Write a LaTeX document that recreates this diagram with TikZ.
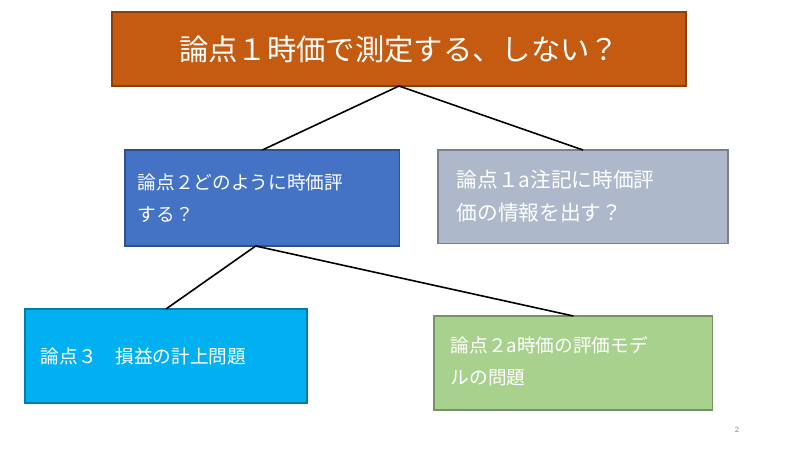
\documentclass[tikz,border=0pt]{standalone}
\usepackage{fontspec}
\newfontfamily\cjk{Noto Sans CJK JP}
\begin{document}
\begin{tikzpicture}[x=0.75pt,y=-0.75pt]
\tikzset{box/.style={draw=#1!70!black,fill=#1,line width=0.8pt,text=white,font=\cjk,inner sep=0pt,outer sep=0pt},
 ln/.style={line width=1.2pt,black}}
\definecolor{c1}{HTML}{C55A11}\definecolor{c2}{HTML}{4472C4}\definecolor{c3}{HTML}{ADB9CA}
\definecolor{c4}{HTML}{00B0F0}\definecolor{c5}{HTML}{A9D18E}
\useasboundingbox (0,0) rectangle (800,450);
\node[box=c1,minimum width=430.5pt,minimum height=55.5pt,anchor=north west,font=\cjk\fontsize{22}{26}\selectfont] (t) at (112,12) {論点１時価で測定する、しない？};
\node[box=c2,minimum width=206pt,minimum height=72pt,anchor=north west] (b2) at (125,150) {};
\node[text=white,font=\cjk\fontsize{14}{24}\selectfont,align=left,anchor=west] at (133,198) {論点２どのように時価評\\する？};
\node[box=c3,minimum width=217.5pt,minimum height=70pt,anchor=north west] (b1a) at (438,150) {};
\node[text=white,font=\cjk\fontsize{15.5}{25}\selectfont,align=left,anchor=west] at (452,196) {論点１a注記に時価評\\価の情報を出す？};
\node[box=c4,minimum width=211.5pt,minimum height=70.5pt,anchor=north west] (b3) at (25,309) {};
\node[text=white,font=\cjk\fontsize{14}{24}\selectfont,anchor=west] at (36,356) {論点３　損益の計上問題};
\node[box=c5,minimum width=209pt,minimum height=70.5pt,anchor=north west] (b2a) at (434,316) {};
\node[text=white,font=\cjk\fontsize{14}{24}\selectfont,align=left,anchor=west] at (446,361) {論点２a時価の評価モデ\\ルの問題};
\node[text=gray,font=\sffamily\fontsize{6}{7}\selectfont] (pg) at (737,430) {2};
\draw[ln] (t.south) -- (b2.north);
\draw[ln] (t.south) -- (b1a.north);
\draw[ln] ([xshift=-5pt]b2.south) -- (b3.north);
\draw[ln] ([xshift=-5pt]b2.south) -- (b2a.north);
\end{tikzpicture}
\end{document}
